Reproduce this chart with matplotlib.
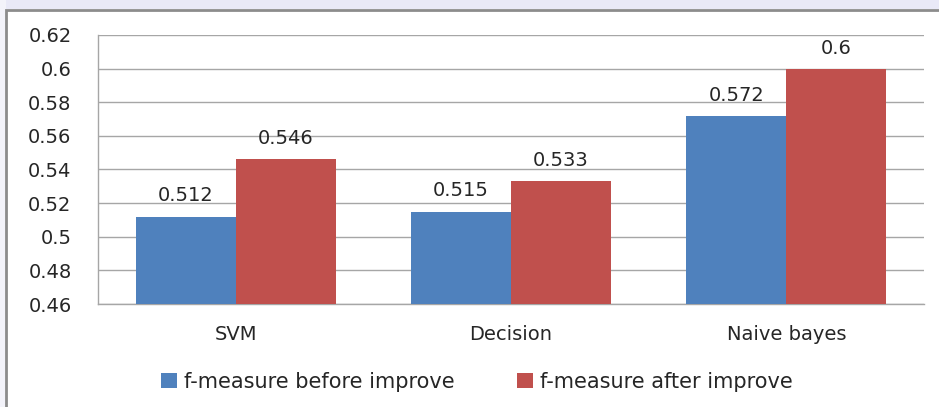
import matplotlib.pyplot as plt
import numpy as np
from matplotlib.patches import Rectangle

categories = ["SVM", "Decision", "Naive bayes"]
before = [0.512, 0.515, 0.572]
after = [0.546, 0.533, 0.6]
series_names = ["f-measure before improve", "f-measure after improve"]
y_ticks = [0.46, 0.48, 0.5, 0.52, 0.54, 0.56, 0.58, 0.6, 0.62]
y_tick_labels = ["0.46", "0.48", "0.5", "0.52", "0.54", "0.56", "0.58", "0.6", "0.62"]

blue = "#4F81BD"
red = "#C0504D"
text_col = "#262626"

plt.rcParams['font.family'] = ['DejaVu Sans']
fs = 14

fig = plt.figure(figsize=(9.39, 4.07), dpi=100)
ax = fig.add_axes([98 / 939, 1 - 304 / 407, (924 - 98) / 939, (304 - 35) / 407])

# faint strip above the chart box, then the box itself (open to the right and bottom)
fig.patches.append(Rectangle((0, 1 - 9 / 407), 1, 9 / 407, transform=fig.transFigure,
                             facecolor="#e9e9f7", edgecolor="none"))
fig.patches.append(Rectangle((0, 0), 6 / 939, 1, transform=fig.transFigure,
                             facecolor="#f3f3fa", edgecolor="none"))
fig.patches.append(Rectangle((6 / 939, -0.05), 1.0, 1.05 - 10 / 407,
                             transform=fig.transFigure, fill=False,
                             edgecolor="#8c8c8c", linewidth=2))

x = np.arange(len(categories))
w = 0.363
b1 = ax.bar(x - w / 2, before, w, color=blue, label=series_names[0], zorder=3)
b2 = ax.bar(x + w / 2, after, w, color=red, label=series_names[1], zorder=3)

for bars, vals in ((b1, before), (b2, after)):
    for rect, v in zip(bars, vals):
        ax.annotate(f"{v:g}", (rect.get_x() + rect.get_width() / 2, v),
                    xytext=(0, 8), textcoords="offset points",
                    ha="center", va="bottom", fontsize=fs, color=text_col)

ax.set_xlim(-0.5, 2.5)
ax.set_ylim(0.46, 0.62)
ax.set_yticks(y_ticks)
ax.set_yticklabels(y_tick_labels)
ax.set_xticks(x)
ax.set_xticklabels(categories)
ax.tick_params(axis="both", length=0, labelsize=fs, colors=text_col)
ax.tick_params(axis="y", pad=19)
ax.tick_params(axis="x", pad=15)

ax.yaxis.grid(True, color="#a6a6a6", linewidth=1, zorder=0)
ax.set_axisbelow(True)
for s in ("top", "right"):
    ax.spines[s].set_visible(False)
for s in ("left", "bottom"):
    ax.spines[s].set_color("#a6a6a6")
    ax.spines[s].set_linewidth(1)

leg = fig.legend(handles=[b1, b2], loc="center", bbox_to_anchor=(0.508, 1 - 382 / 407),
                 ncol=2, frameon=False, fontsize=15, handlelength=0.75,
                 handleheight=0.75, handletextpad=0.35, columnspacing=3.0)
for t in leg.get_texts():
    t.set_color(text_col)

fig.savefig("out.png", dpi=100)
